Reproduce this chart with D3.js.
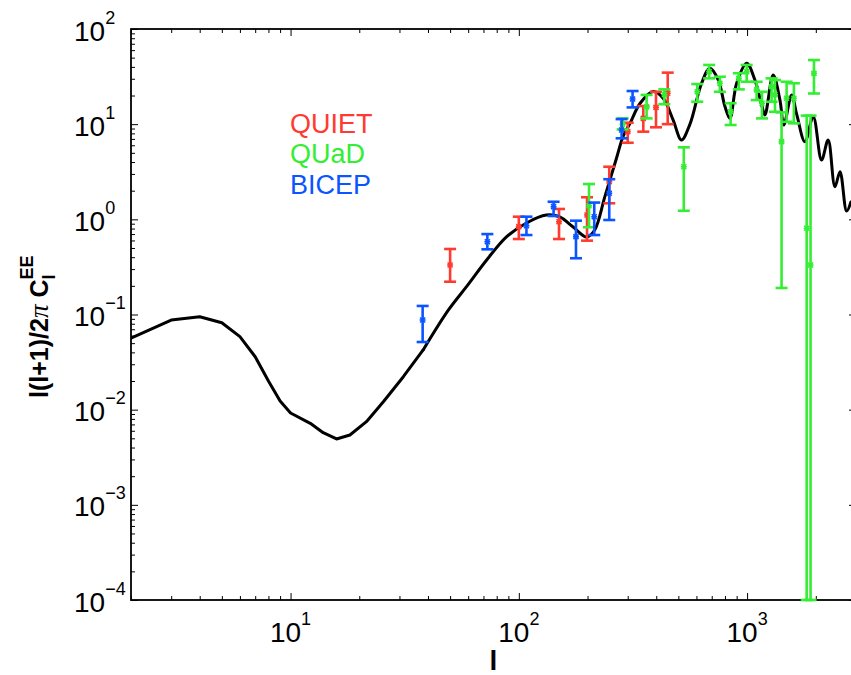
<!DOCTYPE html>
<html>
<head>
<meta charset="utf-8">
<script src="https://cdn.jsdelivr.net/npm/d3@7"></script>
<style>
  html, body { margin: 0; padding: 0; background: #fff; }
  svg { display: block; font-family: "Liberation Sans", Arial, Helvetica, sans-serif; }
</style>
</head>
<body>
<svg id="chart" width="851" height="675"></svg>
<script>
// ---- Theory curve (EE spectrum) ----
const curveL = [2,3,4,5,6,7,8,9,10,12.2,13.9,15.9,18.2,21.5,25.5,31.2,38.1,49.1,59,72.3,88.5,108,132,151,173,198,215,238,268,286,307,340,388,429,474,516,562,632,687,748,800,841,900,996,1082,1159,1197,1301,1393,1449,1567,1652,1792,1949,2119,2265,2426,2553,2730,2850];
const curveV = [0.0566,0.0875,0.0948,0.082,0.0585,0.036,0.02,0.0123,0.00923,0.00719,0.00573,0.00492,0.00542,0.00748,0.0121,0.0222,0.0424,0.111,0.196,0.374,0.658,0.916,1.11,1.06,0.83,0.652,0.773,1.72,4.41,7.38,10.2,16.6,22.0,18.7,11.1,6.82,10.0,26.9,38.6,29.1,15.3,11.5,26.9,43.6,29.1,15.9,12.5,32.9,17.9,9.8,20.2,12.5,6.55,12.0,4.2,6.82,2.2,3.17,1.22,1.52];
const curveSmoothFrom = 38.1; // below this l the curve is drawn as straight segments

// ---- QUIET (red) ----
const quietL  = [50, 100, 150, 199, 249, 300, 351, 399, 449];
const quietV  = [0.331, 0.838, 0.944, 1.11, 2.49, 8.34, 11.5, 15.0, 21.1];
const quietLo = [0.221, 0.621, 0.621, 0.597, 1.475, 6.38, 8.34, 9.27, 10.0];
const quietHi = [0.488, 1.066, 1.285, 1.706, 3.57, 10.35, 15.5, 21.9, 34.8];

// ---- QUaD (green) ----
const quadL  = [203, 285, 363, 434, 528, 605, 682, 760, 847, 920, 996, 1101, 1162, 1280, 1325, 1416, 1490, 1603, 1824, 1897, 1963];
const quadV  = [1.39, 10.0, 15.2, 20.4, 3.57, 21.9, 35.6, 26.9, 13.5, 30.3, 35.6, 22.9, 16.6, 24.8, 20.4, 6.55, 18.7, 18.7, 0.806, 0.331, 34.2];
const quadLo = [0.826, 8.8, 11.5, 16.2, 1.23, 17.2, 30.3, 21.9, 9.8, 23.2, 27.9, 17.9, 11.5, 17.2, 13.5, 0.19, 10.6, 10.2, 1e-4, 1e-4, 21.0];
const quadHi = [2.35, 11.5, 20.3, 23.2, 5.71, 26.4, 41.9, 31.5, 16.6, 34.3, 41.9, 27.9, 21.9, 30.3, 29.1, 13.3, 27.9, 26.9, 12.3, 12.3, 47.2];

// ---- BICEP (blue) ----
const bicepL  = [37.9, 72.8, 108, 142, 178, 214, 249, 282, 315];
const bicepV  = [0.0875, 0.582, 0.857, 1.358, 0.658, 1.066, 1.88, 8.69, 18.4];
const bicepLo = [0.0514, 0.484, 0.684, 1.084, 0.39, 0.684, 0.984, 7.1, 15.0];
const bicepHi = [0.123, 0.70, 1.066, 1.53, 0.968, 1.50, 2.64, 11.3, 22.3];

// ---- axes ----
const xDomain = [2, 3000];
const yDomain = [1e-4, 100];
const xMajor = [10, 100, 1000];
const yMajor = [1e-4, 1e-3, 1e-2, 1e-1, 1, 10, 100];
const xExp = ["1", "2", "3"];
const yExp = ["\u22124", "\u22123", "\u22122", "\u22121", "0", "1", "2"];
const legendNames = ["QUIET", "QUaD", "BICEP"];
const colors = { QUIET: "#ff3b2f", QUaD: "#33ee33", BICEP: "#0a55ff" };

const svg = d3.select("#chart");
const L = 131, R = 856, T = 29, B = 600;
const x = d3.scaleLog().domain(xDomain).range([L, R]);
const y = d3.scaleLog().domain(yDomain).range([B, T]);

function minorTicks(dom) {
  const out = [];
  for (let e = Math.floor(Math.log10(dom[0])); e <= Math.ceil(Math.log10(dom[1])); e++) {
    for (let k = 2; k <= 9; k++) {
      const v = k * Math.pow(10, e);
      if (v >= dom[0] && v <= dom[1]) out.push(v);
    }
  }
  return out;
}
const xMinor = minorTicks(xDomain);
const yMinor = minorTicks(yDomain);

const axesG = svg.append("g");
function addAxis(axisFn, scale, vals, size, transform) {
  const g = axesG.append("g").attr("transform", transform)
    .call(axisFn(scale).tickValues(vals).tickSize(-size).tickSizeOuter(0).tickFormat(""));
  g.select(".domain").remove();
  g.selectAll(".tick line").attr("stroke", "#000").attr("stroke-width", 1);
}
addAxis(d3.axisBottom, x, xMajor, 7, `translate(0,${B})`);
addAxis(d3.axisBottom, x, xMinor, 4, `translate(0,${B})`);
addAxis(d3.axisTop, x, xMajor, 7, `translate(0,${T})`);
addAxis(d3.axisTop, x, xMinor, 4, `translate(0,${T})`);
addAxis(d3.axisLeft, y, yMajor, 7, `translate(${L},0)`);
addAxis(d3.axisLeft, y, yMinor, 4, `translate(${L},0)`);
addAxis(d3.axisRight, y, yMajor, 7, `translate(${R},0)`);
addAxis(d3.axisRight, y, yMinor, 4, `translate(${R},0)`);

// box
axesG.append("rect").attr("x", L).attr("y", T).attr("width", R - L).attr("height", B - T)
  .attr("fill", "none").attr("stroke", "#000").attr("stroke-width", 1.8);

// tick labels
const tickFont = 28, supFont = 18;
yMajor.forEach((v, i) => {
  const t = svg.append("text").attr("x", 74).attr("y", y(v) + 11.5)
    .attr("font-size", tickFont).attr("fill", "#000");
  t.append("tspan").text("10");
  t.append("tspan").attr("font-size", supFont).attr("dy", -17).text(yExp[i]);
});
xMajor.forEach((v, i) => {
  const t = svg.append("text").attr("x", x(v)).attr("y", 642)
    .attr("text-anchor", "middle").attr("font-size", tickFont).attr("fill", "#000");
  t.append("tspan").text("10");
  t.append("tspan").attr("font-size", supFont).attr("dy", -17).text(xExp[i]);
});

// axis titles
svg.append("text").attr("x", (L + R) / 2).attr("y", 670).attr("text-anchor", "middle")
  .attr("font-size", 28).attr("font-weight", "bold").text("l");

const yt = svg.append("text").attr("transform", "translate(48,398) rotate(-90)")
  .attr("font-size", 25).attr("font-weight", "bold").attr("fill", "#000");
yt.append("tspan").text("l(l+1)/2");
yt.append("tspan").attr("font-family", "Liberation Serif, serif").attr("font-style", "italic")
  .attr("font-weight", "normal").attr("font-size", 27).text("\u03c0");
yt.append("tspan").text(" C");
yt.append("tspan").attr("font-size", 18).attr("dy", 7).text("l");
yt.append("tspan").attr("font-size", 18).attr("dx", -5).attr("dy", -22).text("EE");

// clip
svg.append("clipPath").attr("id", "clip").append("rect")
  .attr("x", L).attr("y", T - 10).attr("width", R - L).attr("height", B - T + 20);
const plot = svg.append("g").attr("clip-path", "url(#clip)");

// theory curve: straight segments at low l, smooth spline above
const curveData = curveL.map((l, i) => [l, curveV[i]]);
const lowPart = curveData.filter(d => d[0] <= curveSmoothFrom);
const highPart = curveData.filter(d => d[0] >= curveSmoothFrom);
const lineGen = d3.line().x(d => x(d[0])).y(d => y(d[1]));
plot.append("path").datum(lowPart)
  .attr("fill", "none").attr("stroke", "#000").attr("stroke-width", 3)
  .attr("stroke-linejoin", "round").attr("stroke-linecap", "round")
  .attr("d", lineGen.curve(d3.curveLinear));
plot.append("path").datum(highPart)
  .attr("fill", "none").attr("stroke", "#000").attr("stroke-width", 3)
  .attr("stroke-linejoin", "round").attr("stroke-linecap", "round")
  .attr("d", lineGen.curve(d3.curveCatmullRom.alpha(0.5)));

// error bars
function drawSeries(name, ls, vs, los, his) {
  const c = colors[name];
  const g = plot.append("g");
  const data = ls.map((l, i) => ({ l, v: vs[i], lo: Math.max(los[i], yDomain[0]), hi: his[i] }));
  const cap = 6;
  data.forEach(d => {
    const cx = x(d.l);
    g.append("line").attr("x1", cx).attr("x2", cx).attr("y1", y(d.lo)).attr("y2", y(d.hi))
      .attr("stroke", c).attr("stroke-width", 2.6);
    [d.lo, d.hi].forEach(e => {
      g.append("line").attr("x1", cx - cap).attr("x2", cx + cap).attr("y1", y(e)).attr("y2", y(e))
        .attr("stroke", c).attr("stroke-width", 2.6);
    });
    const cy = y(d.v);
    g.append("path").attr("d", `M${cx-2.5},${cy-2.5}L${cx+2.5},${cy+2.5}M${cx-2.5},${cy+2.5}L${cx+2.5},${cy-2.5}M${cx-3},${cy}L${cx+3},${cy}`)
      .attr("stroke", c).attr("stroke-width", 1.6);
  });
}
drawSeries("QUIET", quietL, quietV, quietLo, quietHi);
drawSeries("QUaD", quadL, quadV, quadLo, quadHi);
drawSeries("BICEP", bicepL, bicepV, bicepLo, bicepHi);

// legend
const legY = [133, 163, 194];
legendNames.forEach((n, i) => {
  svg.append("text").attr("x", 290).attr("y", legY[i]).attr("font-size", 27)
    .attr("fill", colors[n]).text(n);
});
</script>
</body>
</html>
